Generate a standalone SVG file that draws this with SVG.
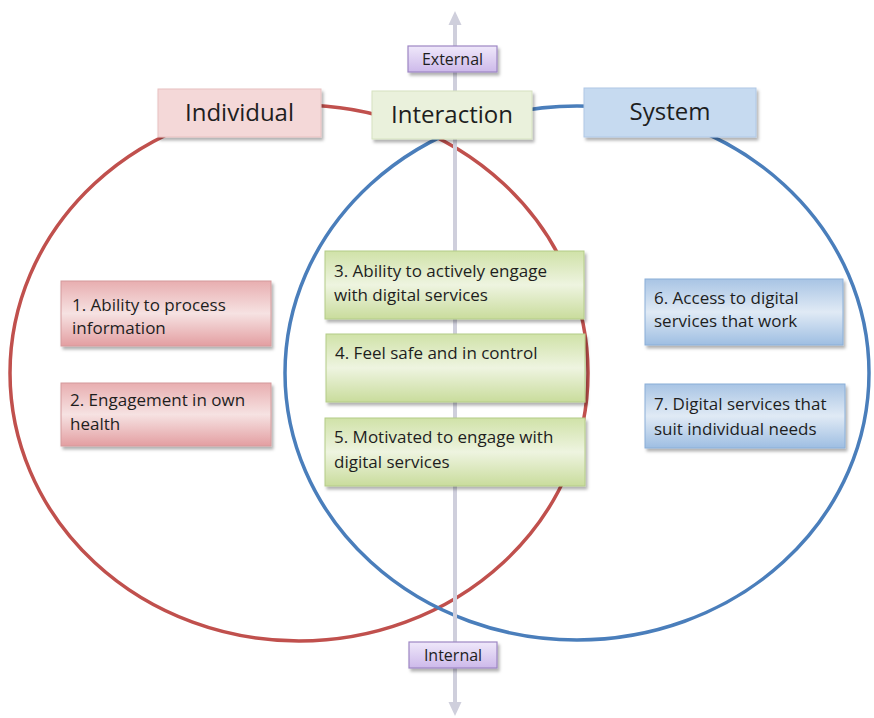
<svg xmlns="http://www.w3.org/2000/svg" width="874" height="718" viewBox="0 0 874 718">
<style>
.t{font-family:"Open Sans","Liberation Sans",sans-serif;fill:#1e1e1e}
.big{font-size:24px;text-anchor:middle}
.sm{font-size:17px}
.ax{font-size:16px;text-anchor:middle}
</style>
<defs>
<linearGradient id="gPink" x1="0" y1="0" x2="0" y2="1">
<stop offset="0" stop-color="#e8aeb0"/><stop offset="0.5" stop-color="#f6e2e2"/><stop offset="1" stop-color="#e39ea1"/>
</linearGradient>
<linearGradient id="gGreen" x1="0" y1="0" x2="0" y2="1">
<stop offset="0" stop-color="#d0e2a8"/><stop offset="0.5" stop-color="#eef4e0"/><stop offset="1" stop-color="#c9dc9c"/>
</linearGradient>
<linearGradient id="gBlue" x1="0" y1="0" x2="0" y2="1">
<stop offset="0" stop-color="#a8c4e4"/><stop offset="0.5" stop-color="#e0eaf5"/><stop offset="1" stop-color="#9ebee2"/>
</linearGradient>
<linearGradient id="gPurple" x1="0" y1="0" x2="0" y2="1">
<stop offset="0" stop-color="#efe8fa"/><stop offset="1" stop-color="#cdb9ea"/>
</linearGradient>
<filter id="sh" x="-10%" y="-10%" width="130%" height="140%">
<feDropShadow dx="2" dy="3" stdDeviation="1.5" flood-color="#000" flood-opacity="0.3"/>
</filter>
</defs>
<rect width="874" height="718" fill="#fff"/>
<g id="connectors">
<ellipse cx="299" cy="373" rx="289" ry="268" fill="none" stroke="#c0504d" stroke-width="3.5"/>
<ellipse cx="577" cy="373" rx="292" ry="267" fill="none" stroke="#4a7ebb" stroke-width="3.5"/>
<line x1="455" y1="704" x2="455" y2="22" stroke="#cfcfdc" stroke-width="4"/>
<path d="M455,11 L461.5,25 L448.5,25 Z" fill="#cfcfdc"/>
<path d="M455,716 L461.5,702 L448.5,702 Z" fill="#cfcfdc"/>
</g>
<g id="external">
<rect x="408" y="46" width="89" height="26" fill="url(#gPurple)" stroke="#9d86c4" stroke-width="1.2" filter="url(#sh)"/>
<text class="t ax" x="452.5" y="65">External</text>
</g>
<g id="internal">
<rect x="409" y="642" width="88" height="26" fill="url(#gPurple)" stroke="#9d86c4" stroke-width="1.2" filter="url(#sh)"/>
<text class="t ax" x="453" y="661">Internal</text>
</g>
<g id="individual">
<rect x="158" y="89" width="163" height="48" fill="#f4d8d8" stroke="#e8c0c0" filter="url(#sh)"/>
<text class="t big" x="239.5" y="121">Individual</text>
</g>
<g id="interaction">
<rect x="372" y="91" width="160" height="48" fill="#eaf1dc" stroke="#d6e2c0" filter="url(#sh)"/>
<text class="t big" x="452" y="123">Interaction</text>
</g>
<g id="system">
<rect x="584" y="88" width="172" height="49" fill="#c6daf0" stroke="#b0c8e6" filter="url(#sh)"/>
<text class="t big" x="670" y="120">System</text>
</g>
<g id="n1">
<rect x="61" y="281" width="210" height="65" fill="url(#gPink)" stroke="#d49a9c" filter="url(#sh)"/>
<text class="t sm" x="72" y="311">1. Ability to process</text>
<text class="t sm" x="72" y="334">information</text>
</g>
<g id="n2">
<rect x="61" y="383" width="210" height="63" fill="url(#gPink)" stroke="#d49a9c" filter="url(#sh)"/>
<text class="t sm" x="70" y="406">2. Engagement in own</text>
<text class="t sm" x="70" y="430">health</text>
</g>
<g id="n3">
<rect x="325" y="251" width="259" height="68" fill="url(#gGreen)" stroke="#b4cc88" filter="url(#sh)"/>
<text class="t sm" x="334" y="277">3. Ability to actively engage</text>
<text class="t sm" x="334" y="301">with digital services</text>
</g>
<g id="n4">
<rect x="326" y="334" width="259" height="68" fill="url(#gGreen)" stroke="#b4cc88" filter="url(#sh)"/>
<text class="t sm" x="335" y="359">4. Feel safe and in control</text>
</g>
<g id="n5">
<rect x="325" y="418" width="260" height="68" fill="url(#gGreen)" stroke="#b4cc88" filter="url(#sh)"/>
<text class="t sm" x="334" y="443">5. Motivated to engage with</text>
<text class="t sm" x="334" y="468">digital services</text>
</g>
<g id="n6">
<rect x="645" y="279" width="198" height="66" fill="url(#gBlue)" stroke="#8aaed8" filter="url(#sh)"/>
<text class="t sm" x="654" y="304">6. Access to digital</text>
<text class="t sm" x="654" y="327">services that work</text>
</g>
<g id="n7">
<rect x="645" y="384" width="200" height="64" fill="url(#gBlue)" stroke="#8aaed8" filter="url(#sh)"/>
<text class="t sm" x="654" y="410">7. Digital services that</text>
<text class="t sm" x="654" y="435">suit individual needs</text>
</g>
</svg>
